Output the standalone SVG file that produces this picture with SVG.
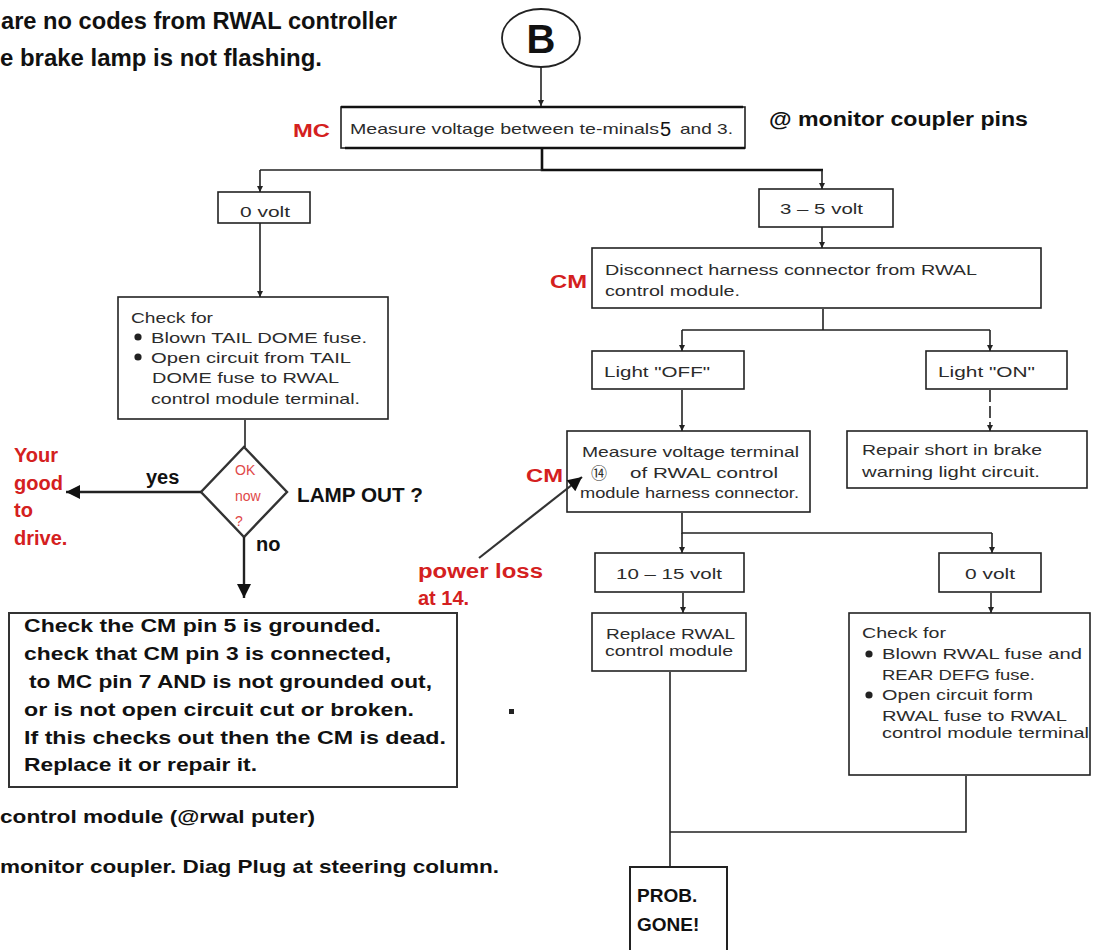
<svg xmlns="http://www.w3.org/2000/svg" width="1093" height="950" viewBox="0 0 1093 950">
<style>
.bx{fill:#fff;stroke:#222;stroke-width:1.6}
.ln{fill:none;stroke:#222;stroke-width:1.6}
.tk{fill:none;stroke:#111;stroke-width:2.6}
.t{font-family:"Liberation Sans",Arial,sans-serif;font-size:15px;fill:#2b2b2b}
.b{font-family:"Liberation Sans",Arial,sans-serif;font-weight:bold;fill:#111}
.n{font-family:"Liberation Sans Narrow","Liberation Sans",Arial,sans-serif;font-weight:bold;fill:#111;font-size:24px}
.r{font-family:"Liberation Sans",Arial,sans-serif;font-weight:bold;fill:#d42020}
.rl{font-family:"Liberation Sans",Arial,sans-serif;fill:#e04848;font-size:14px}
</style>
<defs>
<marker id="sa" viewBox="0 0 8 8" refX="8" refY="4" markerWidth="6" markerHeight="6" orient="auto" markerUnits="userSpaceOnUse">
<path d="M0,0 L8,4 L0,8 z" fill="#222"/>
</marker>
<marker id="ba" viewBox="0 0 10 10" refX="10" refY="5" markerWidth="16" markerHeight="14" orient="auto" markerUnits="userSpaceOnUse">
<path d="M0,0 L10,5 L0,10 z" fill="#111"/>
</marker>
</defs>

<!-- free text -->
<g id="notes">
<text class="n" x="1" y="29" textLength="396" lengthAdjust="spacingAndGlyphs">are no codes from RWAL controller</text>
<text class="n" x="0" y="66" textLength="322" lengthAdjust="spacingAndGlyphs">e brake lamp  is not flashing.</text>
<text class="b" x="769" y="126" font-size="20" textLength="259" lengthAdjust="spacingAndGlyphs">@ monitor coupler pins</text>
<text class="r" x="293" y="137" font-size="18" textLength="37" lengthAdjust="spacingAndGlyphs">MC</text>
<text class="r" x="550" y="288" font-size="18" textLength="37" lengthAdjust="spacingAndGlyphs">CM</text>
<text class="r" x="526" y="482" font-size="18" textLength="37" lengthAdjust="spacingAndGlyphs">CM</text>
<text class="r" x="14" y="462" font-size="20">Your</text>
<text class="r" x="14" y="490" font-size="20">good</text>
<text class="r" x="14" y="517" font-size="20">to</text>
<text class="r" x="14" y="545" font-size="20">drive.</text>
<text class="b" x="146" y="484" font-size="20">yes</text>
<text class="b" x="297" y="502" font-size="20" textLength="126" lengthAdjust="spacingAndGlyphs">LAMP OUT ?</text>
<text class="b" x="256" y="551" font-size="20">no</text>
<text class="r" x="418" y="578" font-size="20" textLength="125" lengthAdjust="spacingAndGlyphs">power loss</text>
<text class="r" x="418" y="605" font-size="20">at 14.</text>
<text class="b" x="0" y="823" font-size="19" textLength="315" lengthAdjust="spacingAndGlyphs">control module (@rwal puter)</text>
<text class="b" x="0" y="873" font-size="19" textLength="499" lengthAdjust="spacingAndGlyphs">monitor coupler. Diag Plug at steering column.</text>
<rect x="509" y="709" width="5" height="5" fill="#222"/>
</g>

<g id="start">
<ellipse cx="541" cy="38" rx="39" ry="29" fill="#fff" stroke="#222" stroke-width="1.8"/>
<text class="b" x="541" y="53" font-size="40" text-anchor="middle">B</text>
</g>

<g id="measure-mc">
<rect class="bx" x="341" y="107" width="404" height="41"/>
<path class="tk" stroke-width="3" d="M341,107 H743"/>
<path class="tk" d="M345,148 H745"/>
<text class="t" x="350" y="134" textLength="309" lengthAdjust="spacingAndGlyphs">Measure voltage between te-minals</text>
<text class="t" x="660" y="136" style="font-size:20px;fill:#111">5</text>
<text class="t" x="680" y="134" textLength="53" lengthAdjust="spacingAndGlyphs">and 3.</text>
</g>

<g id="zero-volt-a">
<rect class="bx" x="218" y="192" width="92" height="31"/>
<text class="t" x="265" y="217" text-anchor="middle" textLength="50" lengthAdjust="spacingAndGlyphs">0 volt</text>
</g>

<g id="three-five-volt">
<rect class="bx" x="759" y="189" width="134" height="38"/>
<text class="t" x="780" y="214" textLength="83" lengthAdjust="spacingAndGlyphs">3 – 5 volt</text>
</g>

<g id="check-tail-dome">
<rect class="bx" x="118" y="297" width="270" height="122"/>
<text class="t" x="131" y="323" textLength="82" lengthAdjust="spacingAndGlyphs">Check for</text>
<circle cx="138" cy="337" r="3.6" fill="#222"/>
<text class="t" x="151" y="343" textLength="216" lengthAdjust="spacingAndGlyphs">Blown TAIL DOME fuse.</text>
<circle cx="138" cy="357" r="3.6" fill="#222"/>
<text class="t" x="151" y="363" textLength="200" lengthAdjust="spacingAndGlyphs">Open circuit from TAIL</text>
<text class="t" x="152" y="383" textLength="187" lengthAdjust="spacingAndGlyphs">DOME fuse to RWAL</text>
<text class="t" x="151" y="404" textLength="209" lengthAdjust="spacingAndGlyphs">control module terminal.</text>
</g>

<g id="decision">
<polygon points="244,447 287,492 244,537 201,492" fill="#fff" stroke="#333" stroke-width="2.4"/>
<text class="rl" x="235" y="475">OK</text>
<text class="rl" x="235" y="501">now</text>
<text class="rl" x="235" y="526">?</text>
</g>

<g id="check-cm-pins">
<rect x="9" y="613" width="448" height="174" fill="#fff" stroke="#333" stroke-width="2"/>
<text class="b" x="24" y="632" font-size="19" textLength="357" lengthAdjust="spacingAndGlyphs">Check the CM pin 5 is grounded.</text>
<text class="b" x="24" y="660" font-size="19" textLength="367" lengthAdjust="spacingAndGlyphs">check that CM pin 3 is connected,</text>
<text class="b" x="29" y="688" font-size="19" textLength="403" lengthAdjust="spacingAndGlyphs">to MC pin 7 AND is not grounded out,</text>
<text class="b" x="24" y="716" font-size="19" textLength="390" lengthAdjust="spacingAndGlyphs">or is not open circuit cut or broken.</text>
<text class="b" x="24" y="744" font-size="19" textLength="422" lengthAdjust="spacingAndGlyphs">If this checks out then the CM is dead.</text>
<text class="b" x="24" y="771" font-size="19" textLength="233" lengthAdjust="spacingAndGlyphs">Replace it or repair it.</text>
</g>

<g id="disconnect-cm">
<rect class="bx" x="592" y="248" width="449" height="60"/>
<text class="t" x="605" y="275" textLength="372" lengthAdjust="spacingAndGlyphs">Disconnect harness connector from RWAL</text>
<text class="t" x="605" y="296" textLength="135" lengthAdjust="spacingAndGlyphs">control module.</text>
</g>

<g id="light-off">
<rect class="bx" x="592" y="351" width="152" height="38"/>
<text class="t" x="604" y="377" textLength="106" lengthAdjust="spacingAndGlyphs">Light "OFF"</text>
</g>

<g id="light-on">
<rect class="bx" x="926" y="351" width="141" height="38"/>
<text class="t" x="938" y="377" textLength="97" lengthAdjust="spacingAndGlyphs">Light "ON"</text>
</g>

<g id="measure-14">
<rect class="bx" x="567" y="431" width="243" height="81"/>
<text class="t" x="582" y="457" textLength="217" lengthAdjust="spacingAndGlyphs">Measure voltage terminal</text>
<text x="591" y="479" style="font-size:16px;fill:#2b2b2b;font-family:'Noto Sans CJK SC','DejaVu Sans',sans-serif">⑭</text>
<text class="t" x="630" y="478" textLength="148" lengthAdjust="spacingAndGlyphs">of RWAL control</text>
<text class="t" x="580" y="498" textLength="219" lengthAdjust="spacingAndGlyphs">module harness connector.</text>
</g>

<g id="repair-short">
<rect class="bx" x="847" y="431" width="240" height="57"/>
<text class="t" x="862" y="455" textLength="180" lengthAdjust="spacingAndGlyphs">Repair short in brake</text>
<text class="t" x="862" y="477" textLength="178" lengthAdjust="spacingAndGlyphs">warning light circuit.</text>
</g>

<g id="ten-fifteen-volt">
<rect class="bx" x="595" y="553" width="149" height="39"/>
<text class="t" x="616" y="579" textLength="106" lengthAdjust="spacingAndGlyphs">10 – 15 volt</text>
</g>

<g id="zero-volt-b">
<rect class="bx" x="939" y="553" width="102" height="39"/>
<text class="t" x="965" y="579" textLength="50" lengthAdjust="spacingAndGlyphs">0 volt</text>
</g>

<g id="replace-cm">
<rect class="bx" x="592" y="613" width="154" height="58"/>
<text class="t" x="606" y="639" textLength="129" lengthAdjust="spacingAndGlyphs">Replace RWAL</text>
<text class="t" x="605" y="656" textLength="128" lengthAdjust="spacingAndGlyphs">control module</text>
</g>

<g id="check-rwal-fuse">
<rect class="bx" x="849" y="613" width="241" height="162"/>
<text class="t" x="862" y="638" textLength="84" lengthAdjust="spacingAndGlyphs">Check for</text>
<circle cx="869" cy="654" r="3.6" fill="#222"/>
<text class="t" x="882" y="659" textLength="200" lengthAdjust="spacingAndGlyphs">Blown RWAL fuse and</text>
<text class="t" x="882" y="680" textLength="153" lengthAdjust="spacingAndGlyphs">REAR DEFG fuse.</text>
<circle cx="869" cy="695" r="3.6" fill="#222"/>
<text class="t" x="882" y="700" textLength="151" lengthAdjust="spacingAndGlyphs">Open circuit form</text>
<text class="t" x="882" y="721" textLength="185" lengthAdjust="spacingAndGlyphs">RWAL fuse to RWAL</text>
<text class="t" x="882" y="738" textLength="207" lengthAdjust="spacingAndGlyphs">control module terminal</text>
</g>

<g id="prob-gone">
<rect x="630" y="867" width="97" height="95" fill="#fff" stroke="#222" stroke-width="2"/>
<text class="b" x="637" y="902" font-size="19">PROB.</text>
<text class="b" x="637" y="931" font-size="19">GONE!</text>
</g>

<!-- connectors -->
<g id="connectors">
<path class="ln" d="M541,67 V106" marker-end="url(#sa)"/>
<path class="tk" d="M542,149 V170 H823"/>
<path class="ln" d="M542,170 H260"/>
<path class="ln" d="M260,170 V192" marker-end="url(#sa)"/>
<path class="ln" d="M822,170 V189" marker-end="url(#sa)"/>
<path class="ln" d="M260,223 V297" marker-end="url(#sa)"/>
<path class="ln" d="M822,227 V248" marker-end="url(#sa)"/>
<path class="ln" d="M245,420 V447"/>
<path class="ln" style="stroke-width:2.4" d="M201,492 H66" marker-end="url(#ba)"/>
<path class="ln" style="stroke-width:2.4" d="M244,537 V598" marker-end="url(#ba)"/>
<path class="ln" d="M823,309 V330 M682,330 H990"/>
<path class="ln" d="M682,330 V351" marker-end="url(#sa)"/>
<path class="ln" d="M990,330 V351" marker-end="url(#sa)"/>
<path class="ln" d="M682,390 V431" marker-end="url(#sa)"/>
<path class="ln" stroke-dasharray="12,4" d="M990,390 V431" marker-end="url(#sa)"/>
<path class="ln" d="M682,513 V533 H992"/>
<path class="ln" d="M682,533 V553" marker-end="url(#sa)"/>
<path class="ln" d="M992,533 V553" marker-end="url(#sa)"/>
<path class="ln" d="M683,593 V613" marker-end="url(#sa)"/>
<path class="ln" d="M991,593 V613" marker-end="url(#sa)"/>
<path class="ln" d="M670,672 V867"/>
<path class="ln" d="M966,776 V832 H670"/>
<path class="ln" style="stroke:#333;stroke-width:2.2" d="M479,558 L582,477" marker-end="url(#ba)"/>
</g>
</svg>
